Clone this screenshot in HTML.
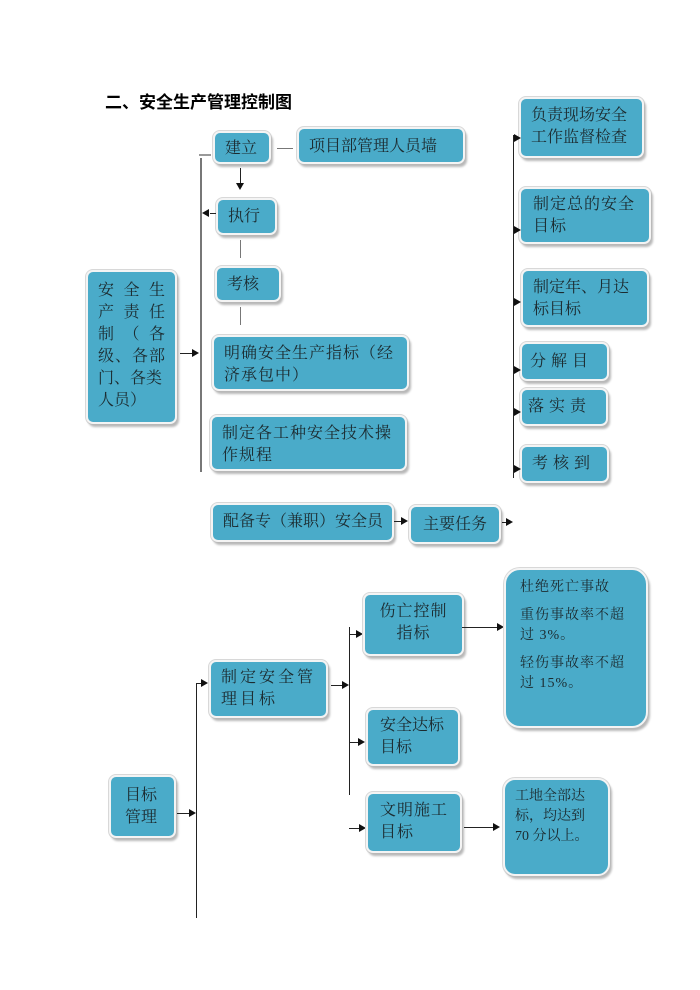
<!DOCTYPE html>
<html><head><meta charset="utf-8"><style>
body{margin:0;width:700px;height:990px;background:#fff;position:relative;overflow:hidden;font-family:"Liberation Serif","Noto Serif CJK SC",serif;}
.b{position:absolute;background:#4aabc9;border:2px solid #f4f4f4;border-radius:7px;box-shadow:2px 3px 2px #b8b8b8,0 0 0 1px #d8d8d8;box-sizing:border-box;color:#1c2b30;font-size:16px;line-height:22px;padding:6px 10px;}
.n{white-space:nowrap;}
.l{position:absolute;background:#222;}
.g{position:absolute;background:#777;}
.ar{position:absolute;width:0;height:0;}
.r{border-top:4px solid transparent;border-bottom:4px solid transparent;border-left:7px solid #111;}
.lf{border-top:4px solid transparent;border-bottom:4px solid transparent;border-right:7px solid #111;}
.d{border-left:4px solid transparent;border-right:4px solid transparent;border-top:7px solid #111;}
.t{position:absolute;left:105px;top:88px;font-family:"Liberation Sans","Noto Sans CJK SC",sans-serif;font-weight:bold;font-size:17px;}
</style></head><body>
<div class="t">二、安全生产管理控制图</div>

<div class="b n" style="left:213px;top:131px;width:58px;height:33px;padding:5px 10px">建立</div>
<div class="g" style="left:277px;top:148px;width:16px;height:1px"></div>
<div class="b n" style="left:297px;top:127px;width:168px;height:37px;padding:7px 10px">项目部管理人员墙</div>
<div class="g" style="left:199px;top:154px;width:12px;height:2px;background:#999"></div>
<div class="g" style="left:200px;top:158px;width:2px;height:314px"></div>
<div class="l" style="left:240px;top:168px;width:1px;height:16px"></div>
<div class="ar d" style="left:236px;top:183px"></div>
<div class="b n" style="left:216px;top:198px;width:61px;height:37px">执行</div>
<div class="l" style="left:210px;top:213px;width:6px;height:1px"></div>
<div class="ar lf" style="left:202px;top:209px"></div>
<div class="g" style="left:240px;top:240px;width:1px;height:18px"></div>
<div class="b n" style="left:215px;top:266px;width:66px;height:36px">考核</div>
<div class="g" style="left:240px;top:307px;width:1px;height:18px"></div>
<div class="b" style="left:212px;top:335px;width:197px;height:56px;letter-spacing:1px">明确安全生产指标（经济承包中）</div>
<div class="b" style="left:210px;top:415px;width:197px;height:56px;letter-spacing:1px">制定各工种安全技术操作规程</div>
<div class="b" style="left:86px;top:270px;width:91px;height:154px;padding:8px 10px;text-align:justify">安 全 生 产 责 任 制（各 级、各部 门、各类<br>人员）</div>
<div class="l" style="left:180px;top:353px;width:12px;height:1px"></div>
<div class="ar r" style="left:192px;top:349px"></div>

<div class="l" style="left:513px;top:135px;width:1px;height:343px"></div>
<div class="b" style="left:519px;top:97px;width:125px;height:61px;padding:6px 10px">负责现场安全工作监督检查</div>
<div class="b" style="left:519px;top:187px;width:132px;height:57px;padding:5px 12px;letter-spacing:1px">制定总的安全目标</div>
<div class="b" style="left:521px;top:269px;width:128px;height:58px;padding:6px 10px;letter-spacing:0px">制定年、月达标目标</div>
<div class="b n" style="left:520px;top:342px;width:89px;height:39px;padding:7px 8px;letter-spacing:5px">分解目</div>
<div class="b n" style="left:520px;top:388px;width:88px;height:38px;padding:6px 6px;letter-spacing:5px">落实责</div>
<div class="b n" style="left:520px;top:445px;width:89px;height:38px;padding:6px 10px;letter-spacing:5px">考核到</div>
<div class="ar r" style="left:514px;top:134px"></div>
<div class="ar r" style="left:514px;top:226px"></div>
<div class="ar r" style="left:514px;top:298px"></div>
<div class="ar r" style="left:514px;top:366px"></div>
<div class="ar r" style="left:514px;top:408px"></div>
<div class="ar r" style="left:514px;top:465px"></div>

<div class="b n" style="left:211px;top:503px;width:183px;height:39px;padding:6px 10px">配备专（兼职）安全员</div>
<div class="l" style="left:394px;top:521px;width:8px;height:1px"></div>
<div class="ar r" style="left:401px;top:517px"></div>
<div class="b n" style="left:409px;top:505px;width:92px;height:39px;padding:7px 12px">主要任务</div>
<div class="l" style="left:502px;top:522px;width:5px;height:1px"></div>
<div class="ar r" style="left:506px;top:518px"></div>

<div class="b" style="left:109px;top:775px;width:67px;height:63px;padding:8px 14px">目标管理</div>
<div class="l" style="left:177px;top:813px;width:12px;height:1px"></div>
<div class="ar r" style="left:189px;top:809px"></div>
<div class="l" style="left:196px;top:683px;width:1px;height:235px"></div>
<div class="l" style="left:196px;top:683px;width:6px;height:1px"></div>
<div class="ar r" style="left:201px;top:679px"></div>
<div class="b" style="left:209px;top:660px;width:119px;height:58px;padding:5px 10px;letter-spacing:3px">制定安全管理目标</div>
<div class="l" style="left:331px;top:685px;width:12px;height:1px"></div>
<div class="ar r" style="left:342px;top:681px"></div>
<div class="l" style="left:349px;top:627px;width:1px;height:168px"></div>
<div class="l" style="left:349px;top:634px;width:8px;height:1px"></div>
<div class="ar r" style="left:356px;top:630px"></div>
<div class="b" style="left:363px;top:593px;width:101px;height:63px;padding:6px 8px;text-align:center;letter-spacing:1px">伤亡控制<br>指标</div>
<div class="l" style="left:462px;top:627px;width:35px;height:1px"></div>
<div class="ar r" style="left:497px;top:623px"></div>
<div class="b" style="left:504px;top:568px;width:144px;height:160px;border-radius:16px;font-size:14px;line-height:20px;padding:8px 14px;letter-spacing:1px">杜绝死亡事故<div style="margin-top:8px">重伤事故率不超过 3%。</div><div style="margin-top:8px">轻伤事故率不超过 15%。</div></div>
<div class="l" style="left:349px;top:742px;width:10px;height:1px"></div>
<div class="ar r" style="left:358px;top:738px"></div>
<div class="b" style="left:366px;top:708px;width:94px;height:58px;padding:5px 12px">安全达标目标</div>
<div class="l" style="left:349px;top:828px;width:10px;height:1px"></div>
<div class="ar r" style="left:359px;top:824px"></div>
<div class="b" style="left:366px;top:792px;width:96px;height:61px;padding:6px 12px;letter-spacing:1px">文明施工目标</div>
<div class="l" style="left:464px;top:827px;width:30px;height:1px"></div>
<div class="ar r" style="left:493px;top:823px"></div>
<div class="b" style="left:503px;top:778px;width:107px;height:98px;border-radius:12px;font-size:14px;line-height:20px;padding:7px 10px">工地全部达标，均达到<br>70 分以上。</div>
</body></html>
